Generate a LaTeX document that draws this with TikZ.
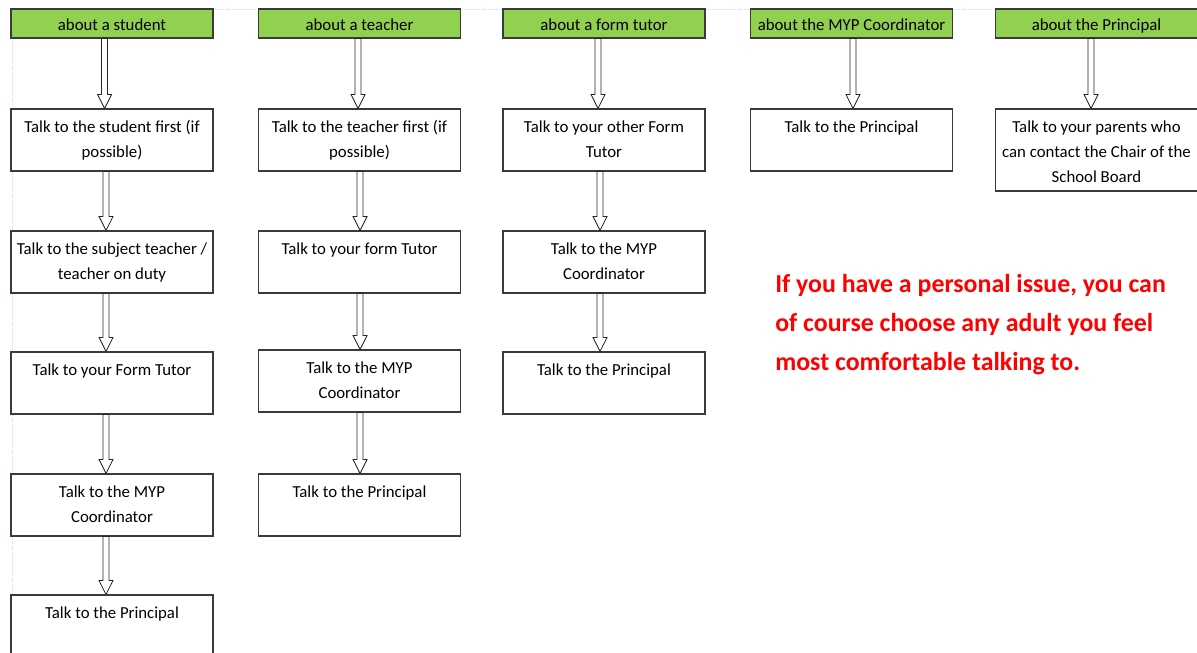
\documentclass[tikz,border=0pt]{standalone}
\usepackage{fontspec}
\setmainfont{Carlito}
\usetikzlibrary{calc}
\definecolor{hdrgreen}{HTML}{92D050}
\definecolor{gridblue}{HTML}{C6D9F0}
\definecolor{boxline}{HTML}{3A3A3A}
\newcommand\barrow[3]{%
  \draw[blockarrow] let \p1=(#1.south), \p2=(#2.north) in
  (\x1+#3-2.25pt,\y1) -- (\x1+#3-2.25pt,\y2+10.5pt) -- (\x1+#3-5.25pt,\y2+10.5pt) --
  (\x1+#3,\y2) -- (\x1+#3+5.25pt,\y2+10.5pt) -- (\x1+#3+2.25pt,\y2+10.5pt) --
  (\x1+#3+2.25pt,\y1) -- cycle;}
\newcommand\mlines[1]{\parbox[t]{160pt}{\centering #1}}
\tikzset{
  box/.style={draw=boxline, line width=0.8pt, fill=white, rectangle, inner sep=0pt,
    minimum width=151.5pt, minimum height=46.5pt},
  hdr/.style={box, fill=hdrgreen, minimum height=21.75pt},
  txt/.style={anchor=base, inner sep=0pt, font=\fontsize{12.6pt}{18.75pt}\selectfont},
  blockarrow/.style={draw=black!85, line width=0.65pt, fill=white},
  grid/.style={draw=gridblue, line width=0.6pt, densely dotted}
}
\begin{document}
\begin{tikzpicture}[x=0.75pt,y=-0.75pt]
\useasboundingbox (0,0) rectangle (1197,653);
\fill[white] (0,0) rectangle (1197,653);
\coordinate (g0) at (12,9);
\coordinate (g1) at (1197,9);
\coordinate (g2) at (12,653);
\draw[grid] (g1) -- (g0) -- (g2);
% headers
\node[hdr] (h1) at (112,23.5) {};
\node[hdr] (h2) at (359.5,23.5) {};
\node[hdr] (h3) at (604,23.5) {};
\node[hdr] (h4) at (851.5,23.5) {};
\node[hdr] (h5) at (1096.5,23.5) {};
\node[txt] (th1) at ([yshift=-16.5pt]h1.north) {about a student};
\node[txt] (th2) at ([yshift=-16.5pt]h2.north) {about a teacher};
\node[txt] (th3) at ([yshift=-16.5pt]h3.north) {about a form tutor};
\node[txt] (th4) at ([yshift=-16.5pt]h4.north) {about the MYP Coordinator};
\node[txt] (th5) at ([yshift=-16.5pt]h5.north) {about the Principal};
% column 1
\node[box] (a1) at (112,140) {};
\node[box] (a2) at (112,262) {};
\node[box] (a3) at (112,383) {};
\node[box] (a4) at (112,505) {};
\node[box] (a5) at (112,626) {};
% column 2
\node[box] (b1) at (359.5,140) {};
\node[box] (b2) at (359.5,262) {};
\node[box] (b3) at (359.5,381) {};
\node[box] (b4) at (359.5,505) {};
% column 3
\node[box] (c1) at (604,140) {};
\node[box] (c2) at (604,262) {};
\node[box] (c3) at (604,383) {};
% column 4
\node[box] (d1) at (851.5,140) {};
% column 5
\node[box, minimum height=61.5pt] (e1) at (1096.5,150) {};
% texts
\node[txt] (ta1) at ([yshift=-18pt]a1.north) {\mlines{Talk to the student first (if\\possible)}};
\node[txt] (ta2) at ([yshift=-18pt]a2.north) {\mlines{Talk to the subject teacher /\\teacher on duty}};
\node[txt] (ta3) at ([yshift=-18pt]a3.north) {\mlines{Talk to your Form Tutor}};
\node[txt] (ta4) at ([yshift=-18pt]a4.north) {\mlines{Talk to the MYP\\Coordinator}};
\node[txt] (ta5) at ([yshift=-18pt]a5.north) {\mlines{Talk to the Principal}};
\node[txt] (tb1) at ([yshift=-18pt]b1.north) {\mlines{Talk to the teacher first (if\\possible)}};
\node[txt] (tb2) at ([yshift=-18pt]b2.north) {\mlines{Talk to your form Tutor}};
\node[txt] (tb3) at ([yshift=-18pt]b3.north) {\mlines{Talk to the MYP\\Coordinator}};
\node[txt] (tb4) at ([yshift=-18pt]b4.north) {\mlines{Talk to the Principal}};
\node[txt] (tc1) at ([yshift=-18pt]c1.north) {\mlines{Talk to your other Form\\Tutor}};
\node[txt] (tc2) at ([yshift=-18pt]c2.north) {\mlines{Talk to the MYP\\Coordinator}};
\node[txt] (tc3) at ([yshift=-18pt]c3.north) {\mlines{Talk to the Principal}};
\node[txt] (td1) at ([yshift=-18pt]d1.north) {\mlines{Talk to the Principal}};
\node[txt] (te1) at ([yshift=-18pt]e1.north) {\mlines{Talk to your parents who\\can contact the Chair of the\\School Board}};
% arrows
\barrow{h1}{a1}{-5.6pt}
\barrow{a1}{a2}{-4.5pt}
\barrow{a2}{a3}{-4.5pt}
\barrow{a3}{a4}{-4.5pt}
\barrow{a4}{a5}{-4.5pt}
\barrow{h2}{b1}{-1.1pt}
\barrow{b1}{b2}{0.4pt}
\barrow{b2}{b3}{0.4pt}
\barrow{b3}{b4}{0.4pt}
\barrow{h3}{c1}{-4.5pt}
\barrow{c1}{c2}{-3pt}
\barrow{c2}{c3}{-3pt}
\barrow{h4}{d1}{1.1pt}
\barrow{h5}{e1}{-4.1pt}
% note
\node[anchor=base west, inner sep=0pt, text=red,
  font=\bfseries\fontsize{19.4pt}{29.25pt}\selectfont] (note) at (775,292.5)
  {\parbox[t]{330pt}{\raggedright If you have a personal issue, you can\\of course choose any adult you feel\\most comfortable talking to.}};
\end{tikzpicture}
\end{document}
